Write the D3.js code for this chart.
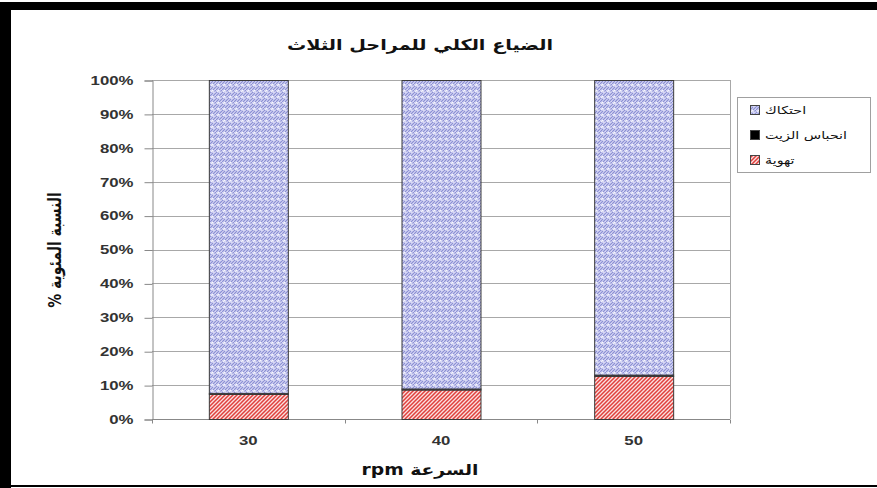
<!DOCTYPE html>
<html>
<head>
<meta charset="utf-8">
<script src="https://cdn.jsdelivr.net/npm/d3@7"></script>
<style>
  html, body { margin: 0; padding: 0; background: #fff; }
  svg { display: block; font-family: "Liberation Sans", Arial, "DejaVu Sans", sans-serif; }
</style>
</head>
<body>
<svg id="chart" width="877" height="488"></svg>
<script>
// Speed categories (rpm)
const categories = ["30", "40", "50"];
// Share of total loss per stage, in percent
const aeration = [7.4, 8.7, 12.7];     // تهوية
const oilTrap = [0.3, 0.3, 0.4];       // انحباس الزيت
const friction = [92.3, 91.0, 86.9];   // احتكاك
const seriesNames = ["احتكاك", "انحباس الزيت", "تهوية"];
const yTicks = [0, 10, 20, 30, 40, 50, 60, 70, 80, 90, 100];

// text in this chart is drawn horizontally widened
const SX = 1.4;

const svg = d3.select("#chart");
const W = 877, H = 488;

// frame of the page
svg.append("rect").attr("x", 0).attr("y", 0).attr("width", W).attr("height", H).attr("fill", "#fff");
svg.append("rect").attr("x", 0).attr("y", 2).attr("width", W).attr("height", 8).attr("fill", "#000");
svg.append("rect").attr("x", 0).attr("y", 2).attr("width", 11).attr("height", H - 2).attr("fill", "#000");
svg.append("rect").attr("x", 11).attr("y", 485).attr("width", W - 11).attr("height", 2).attr("fill", "#000");

// fill patterns
const defs = svg.append("defs");
const pf = defs.append("pattern").attr("id", "pFriction").attr("patternUnits", "userSpaceOnUse")
  .attr("width", 6).attr("height", 6);
pf.append("rect").attr("width", 6).attr("height", 6).attr("fill", "#d8d9f5");
pf.append("path").attr("d", "M0,6 L3,3 M3,6 L6,3 M0,3 L1.5,1.5 M4.5,1.5 L6,0")
  .attr("stroke", "#8a8ed4").attr("stroke-width", 1.1);
pf.append("path").attr("d", "M1,2 L3,0").attr("stroke", "#ffffff").attr("stroke-width", 0.8);

const pa = defs.append("pattern").attr("id", "pAeration").attr("patternUnits", "userSpaceOnUse")
  .attr("width", 4).attr("height", 4);
pa.append("rect").attr("width", 4).attr("height", 4).attr("fill", "#fbe0e0");
pa.append("path").attr("d", "M-1,1 L1,-1 M0,4 L4,0 M3,5 L5,3")
  .attr("stroke", "#e0403c").attr("stroke-width", 1.5);

const x = d3.scaleBand().domain(categories).range([152, 730]).paddingInner(0.59).paddingOuter(0.295);
const y = d3.scaleLinear().domain([0, 100]).range([419, 80]);

// gridlines
svg.append("g").selectAll("line").data(yTicks).join("line")
  .attr("x1", 152).attr("x2", 730)
  .attr("y1", d => Math.round(y(d)) + 0.5).attr("y2", d => Math.round(y(d)) + 0.5)
  .attr("stroke", "#a8a8a8").attr("stroke-width", 1);
// right plot edge
svg.append("line").attr("x1", 730.5).attr("x2", 730.5).attr("y1", 80).attr("y2", 419)
  .attr("stroke", "#a8a8a8");

// y axis
const yAxis = svg.append("g").attr("transform", "translate(152.5,0.5)")
  .call(d3.axisLeft(y).tickValues(yTicks).tickFormat(d => d + "%").tickSize(8).tickPadding(11));
yAxis.select(".domain").attr("stroke", "#888");
yAxis.selectAll(".tick line").attr("stroke", "#888");
yAxis.selectAll("text").attr("fill", "#333").attr("font-size", 12).attr("font-weight", "bold")
  .attr("x", -19 / SX).attr("transform", `scale(${SX},1)`);

// x axis with ticks between categories
const xAxis = svg.append("g").attr("transform", "translate(0,419.5)");
xAxis.append("line").attr("x1", 152).attr("x2", 730).attr("stroke", "#888");
const bounds = [152, 152 + (730 - 152) / 3, 152 + 2 * (730 - 152) / 3, 730];
xAxis.selectAll(".bt").data(bounds).join("line").attr("class", "bt")
  .attr("x1", d => Math.round(d) + 0.5).attr("x2", d => Math.round(d) + 0.5)
  .attr("y1", 0).attr("y2", 4).attr("stroke", "#888");
xAxis.selectAll("text").data(categories).join("text")
  .attr("transform", d => `translate(${x(d) + x.bandwidth() / 2},25) scale(${SX},1)`)
  .attr("text-anchor", "middle").attr("fill", "#333").attr("font-size", 12).attr("font-weight", "bold")
  .text(d => d);

// stacked bars
const rows = categories.map((c, i) => ({ cat: c, aeration: aeration[i], oilTrap: oilTrap[i], friction: friction[i] }));
const stack = d3.stack().keys(["aeration", "oilTrap", "friction"])(rows);
const fills = { aeration: "url(#pAeration)", oilTrap: "#000", friction: "url(#pFriction)" };
svg.append("g").selectAll("g").data(stack).join("g")
  .attr("fill", d => fills[d.key])
  .selectAll("rect").data(d => d).join("rect")
  .attr("x", d => x(d.data.cat) + 0.5)
  .attr("y", d => y(d[1]) + 0.5)
  .attr("width", x.bandwidth())
  .attr("height", d => y(d[0]) - y(d[1]))
  .attr("stroke", "#3a3a3a").attr("stroke-width", 1);

// title
svg.append("text").attr("transform", `translate(420,50) scale(1.28,1)`).attr("text-anchor", "middle")
  .attr("font-size", 15).attr("font-weight", "bold").attr("fill", "#111")
  .attr("font-family", "DejaVu Sans, sans-serif")
  .text("الضياع الكلي للمراحل الثلاث");

// y axis title
svg.append("text").attr("transform", "translate(61,250) scale(1.3,1) rotate(-90)").attr("text-anchor", "middle")
  .attr("font-size", 14).attr("font-weight", "bold").attr("fill", "#111")
  .attr("font-family", "DejaVu Sans, sans-serif").attr("direction", "rtl")
  .text("النسبة المئوية %");

// x axis title
svg.append("text").attr("transform", "translate(420,475) scale(1.25,1)").attr("text-anchor", "middle")
  .attr("font-size", 15).attr("font-weight", "bold").attr("fill", "#111")
  .attr("font-family", "DejaVu Sans, sans-serif").attr("direction", "rtl")
  .text("السرعة rpm");

// legend
const lg = svg.append("g");
lg.append("rect").attr("x", 737.5).attr("y", 97.5).attr("width", 133).attr("height", 75)
  .attr("fill", "#fff").attr("stroke", "#a0a0a0");
const legendFills = [fills.friction, fills.oilTrap, fills.aeration];
const items = lg.selectAll("g.item").data(seriesNames).join("g").attr("class", "item")
  .attr("transform", (d, i) => `translate(0,${110 + i * 25})`);
items.append("rect").attr("x", 750.5).attr("y", -4.5).attr("width", 9).attr("height", 9)
  .attr("fill", (d, i) => legendFills[i]).attr("stroke", "#444");
items.append("text").attr("transform", `translate(765,4) scale(1.3,1)`).attr("text-anchor", "start")
  .attr("font-size", 11).attr("fill", "#111").attr("font-family", "DejaVu Sans, sans-serif")
  .text(d => d);
</script>
</body>
</html>
